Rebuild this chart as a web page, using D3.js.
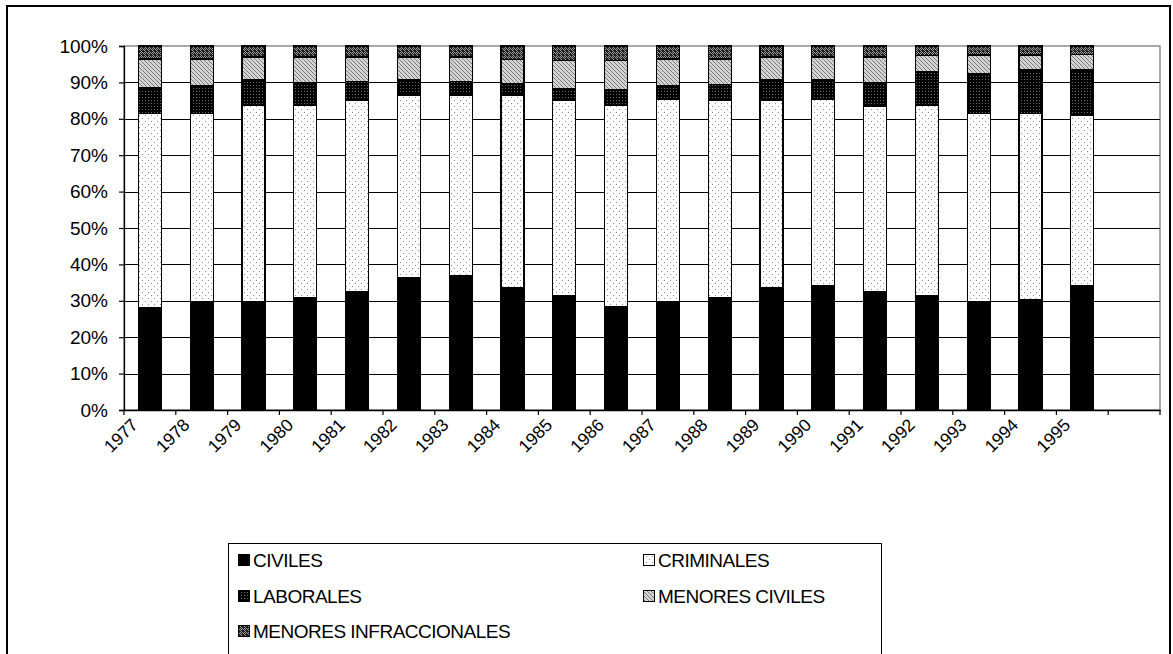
<!DOCTYPE html>
<html>
<head>
<meta charset="utf-8">
<script src="https://cdnjs.cloudflare.com/ajax/libs/d3/7.8.5/d3.min.js"></script>
<style>
  html, body { margin: 0; padding: 0; background: #fff; }
  svg { display: block; font-family: "Liberation Sans", Arial, sans-serif; }
</style>
</head>
<body>
<svg id="chart" width="1173" height="654"></svg>
<script>
// ---- data ----
const years = ["1977","1978","1979","1980","1981","1982","1983","1984","1985","1986",
               "1987","1988","1989","1990","1991","1992","1993","1994","1995"];
const categories = years.concat([""]); // the source sheet has one blank trailing category
const seriesNames = ["CIVILES","CRIMINALES","LABORALES","MENORES CIVILES","MENORES INFRACCIONALES"];
const civiles       = [28.0,29.7,29.7,30.9,32.4,36.3,36.8,33.5,31.3,28.3,29.7,30.8,33.5,34.1,32.4,31.3,29.7,30.2,34.1];
const criminales    = [53.5,51.8,54.1,52.9,52.6,50.2,49.7,53.0,53.7,55.5,55.7,54.2,51.5,51.3,50.9,52.5,51.8,51.3,46.9];
const laborales     = [ 7.0, 7.6, 6.9, 6.2, 5.2, 4.2, 3.7, 3.1, 3.3, 4.1, 3.6, 4.5, 5.7, 5.3, 6.7, 9.1,10.8,11.9,12.4];
const menoresCiv    = [ 7.9, 7.3, 6.3, 7.0, 6.8, 6.3, 6.8, 6.7, 7.7, 8.1, 7.4, 6.9, 6.3, 6.3, 7.0, 4.4, 5.2, 4.1, 4.2];
const menoresInfr   = [ 3.6, 3.6, 3.0, 3.0, 3.0, 3.0, 3.0, 3.7, 4.0, 4.0, 3.6, 3.6, 3.0, 3.0, 3.0, 2.7, 2.5, 2.5, 2.4];
const yTicks = [0,0.1,0.2,0.3,0.4,0.5,0.6,0.7,0.8,0.9,1.0];

const table = years.map((y,i) => ({
  year: y,
  "CIVILES": civiles[i],
  "CRIMINALES": criminales[i],
  "LABORALES": laborales[i],
  "MENORES CIVILES": menoresCiv[i],
  "MENORES INFRACCIONALES": menoresInfr[i]
}));

const svg = d3.select("#chart");

// ---- patterns ----
const defs = svg.append("defs");
function pat(id, w, h, bg, draw) {
  const p = defs.append("pattern").attr("id", id).attr("patternUnits","userSpaceOnUse")
    .attr("width", w).attr("height", h);
  p.append("rect").attr("width", w).attr("height", h).attr("fill", bg);
  draw(p);
}
function px(p, pts, c) { pts.forEach(([a,b]) => p.append("rect").attr("x",a).attr("y",b).attr("width",1).attr("height",1).attr("fill",c)); }
pat("pCiv", 4, 4, "#000", p => {});
pat("pCrim", 6, 6, "#fff", p => px(p, [[1,1],[4,4]], "#8a8a8a"));
pat("pLab", 3, 3, "#000", p => px(p, [[1,1]], "#6a6a6a"));
pat("pMC", 4, 4, "#d4d4d4", p => {
  p.append("path").attr("d","M0,0L4,4M-1,3L1,5M3,-1L5,1").attr("stroke","#7a7a7a").attr("stroke-width",1);
});
pat("pMI", 4, 4, "#1e1e1e", p => px(p, [[0,0],[2,0],[1,1],[3,1],[0,2],[1,3]], "#9a9a9a"));
const fills = {
  "CIVILES":"url(#pCiv)", "CRIMINALES":"url(#pCrim)", "LABORALES":"url(#pLab)",
  "MENORES CIVILES":"url(#pMC)", "MENORES INFRACCIONALES":"url(#pMI)"
};

// ---- outer chart border ----
svg.append("rect").attr("x",7).attr("y",6).attr("width",1163).attr("height",660)
  .attr("fill","none").attr("stroke","#000").attr("stroke-width",2);

// ---- scales ----
const plot = {left:124, right:1160, top:46, bottom:410};
const x = d3.scaleBand().domain(categories).range([plot.left, plot.right])
  .paddingInner(0.556).paddingOuter(0.278);
const y = d3.scaleLinear().domain([0,1]).range([plot.bottom, plot.top]);

// plot frame (grey top/right)
svg.append("rect").attr("x",plot.left).attr("y",plot.top)
  .attr("width",plot.right-plot.left).attr("height",plot.bottom-plot.top)
  .attr("fill","#fff").attr("stroke","#8c8c8c").attr("stroke-width",1.5);

// gridlines
svg.append("g").selectAll("line").data(yTicks.filter(t => t > 0 && t < 1)).join("line")
  .attr("x1",plot.left).attr("x2",plot.right)
  .attr("y1",d => Math.round(y(d))+0.5).attr("y2",d => Math.round(y(d))+0.5)
  .attr("stroke","#000").attr("stroke-width",1.2);

// ---- stacked bars ----
const stack = d3.stack().keys(seriesNames).offset(d3.stackOffsetExpand);
const layers = stack(table);
svg.append("g").selectAll("g").data(layers).join("g")
  .attr("fill", d => fills[d.key])
  .selectAll("rect").data(d => d).join("rect")
  .attr("x", d => x(d.data.year))
  .attr("width", x.bandwidth())
  .attr("y", d => y(d[1]))
  .attr("height", d => y(d[0]) - y(d[1]))
  .attr("stroke","#000").attr("stroke-width",1.3)
  .attr("shape-rendering","crispEdges");

// ---- y axis ----
const yAxis = d3.axisLeft(y).tickValues(yTicks).tickFormat(d3.format(".0%")).tickSize(5).tickPadding(11);
const gy = svg.append("g").attr("transform",`translate(${plot.left},0)`).call(yAxis);
gy.select(".domain").attr("stroke","#000").attr("stroke-width",1.3);
gy.selectAll(".tick line").attr("stroke","#000").attr("stroke-width",1.2);
gy.selectAll("text").attr("font-size",19).attr("fill","#000")
  .attr("font-family","'Liberation Sans', Arial, sans-serif");

// ---- x axis ----
const xAxis = d3.axisBottom(x).tickSize(0).tickPadding(0);
const gx = svg.append("g").attr("transform",`translate(0,${plot.bottom})`).call(xAxis);
gx.select(".domain").attr("stroke","#000").attr("stroke-width",1.3);
gx.selectAll(".tick text")
  .attr("font-size",17.5).attr("fill","#000")
  .attr("font-family","'Liberation Sans', Arial, sans-serif")
  .attr("text-anchor","end")
  .attr("dy",0)
  .attr("transform","translate(-11,16) rotate(-45)");
// tick marks at category boundaries
const step = x.step();
gx.append("g").selectAll("line").data(d3.range(categories.length + 1)).join("line")
  .attr("x1", i => plot.left + i*step).attr("x2", i => plot.left + i*step)
  .attr("y1",0).attr("y2",5).attr("stroke","#000").attr("stroke-width",1.2);

// ---- legend ----
const lg = svg.append("g");
lg.append("rect").attr("x",228.5).attr("y",543.5).attr("width",653).attr("height",130)
  .attr("fill","#fff").attr("stroke","#000").attr("stroke-width",1);
const legendPos = [
  {x:238, y:560}, {x:643, y:560},
  {x:238, y:596}, {x:643, y:596},
  {x:238, y:631}
];
seriesNames.forEach((name,i) => {
  const p = legendPos[i];
  lg.append("rect").attr("x",p.x).attr("y",p.y-6).attr("width",11).attr("height",11)
    .attr("fill",fills[name]).attr("stroke","#000").attr("stroke-width",1)
    .attr("shape-rendering","crispEdges");
  lg.append("text").attr("x",p.x+15).attr("y",p.y+7).text(name)
    .attr("font-size",19).attr("letter-spacing","-0.5px").attr("fill","#000");
});
</script>
</body>
</html>
